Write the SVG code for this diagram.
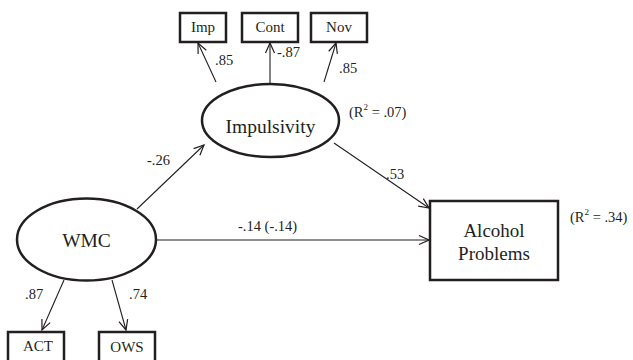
<svg xmlns="http://www.w3.org/2000/svg" width="633" height="360" viewBox="0 0 633 360" font-family="'Liberation Serif', 'Times New Roman', serif">
<style>
text{font-family:'Liberation Serif','Times New Roman',serif;fill:#231f20}
.box{fill:#fff;stroke:#231f20;stroke-width:2.5}
.lat{fill:#fff;stroke:#231f20;stroke-width:2.5}
.c{stroke:#231f20;stroke-width:1.1;fill:none;marker-end:url(#ah)}
.lbl{font-size:14.5px}
.nt{font-size:15px;text-anchor:middle}
.big{font-size:19.5px;text-anchor:middle}
</style>
<defs>
<marker id="ah" markerUnits="userSpaceOnUse" markerWidth="12" markerHeight="12" viewBox="0 0 12 12" refX="11" refY="6" orient="auto">
<path d="M1,1.5 L11,6 L1,10.5" fill="none" stroke="#231f20" stroke-width="1.2"/>
</marker>
</defs>
<g id="connectors">
<line class="c" x1="216" y1="82" x2="198" y2="43"/>
<line class="c" x1="270" y1="84" x2="270" y2="43"/>
<line class="c" x1="324" y1="82" x2="336" y2="43"/>
<line class="c" x1="137" y1="209" x2="204" y2="145"/>
<line class="c" x1="334" y1="143" x2="429" y2="208"/>
<line class="c" x1="156" y1="240" x2="429" y2="240"/>
<line class="c" x1="64" y1="280" x2="42" y2="330"/>
<line class="c" x1="112" y1="280" x2="126" y2="330"/>
</g>
<g id="labels">
<text class="lbl" x="215" y="65">.85</text>
<text class="lbl" x="277" y="57">-.87</text>
<text class="lbl" x="339" y="73">.85</text>
<text class="lbl" x="147" y="165">-.26</text>
<text class="lbl" x="386" y="179">.53</text>
<text class="lbl" x="238" y="231">-.14 (-.14)</text>
<text class="lbl" x="25" y="299">.87</text>
<text class="lbl" x="129" y="299">.74</text>
<text class="lbl" x="349" y="117">(R<tspan dy="-7" font-size="9">2</tspan><tspan dy="7"> = .07)</tspan></text>
<text class="lbl" x="570" y="222">(R<tspan dy="-7" font-size="9">2</tspan><tspan dy="7"> = .34)</tspan></text>
</g>
<g id="imp">
<rect class="box" x="180" y="13" width="46" height="29"/>
<text class="nt" x="203" y="32">Imp</text>
</g>
<g id="cont">
<rect class="box" x="242" y="13" width="56" height="29"/>
<text class="nt" x="270" y="32">Cont</text>
</g>
<g id="nov">
<rect class="box" x="311" y="13" width="56" height="29"/>
<text class="nt" x="339" y="32">Nov</text>
</g>
<g id="impulsivity">
<ellipse class="lat" cx="270.5" cy="120.5" rx="68.5" ry="36.5"/>
<text class="big" x="270.5" y="133">Impulsivity</text>
</g>
<g id="wmc">
<ellipse class="lat" cx="86.5" cy="239.5" rx="69.5" ry="41"/>
<text class="big" x="86.5" y="247">WMC</text>
</g>
<g id="alcohol">
<rect class="box" x="430" y="201" width="128" height="79"/>
<text class="big" x="494" y="237" style="font-size:19px">Alcohol</text>
<text class="big" x="494" y="260" style="font-size:19px">Problems</text>
</g>
<g id="act">
<rect class="box" x="8" y="332" width="56" height="32"/>
<text class="nt" x="38" y="351">ACT</text>
</g>
<g id="ows">
<rect class="box" x="99" y="332" width="56" height="32"/>
<text class="nt" x="127" y="352">OWS</text>
</g>
</svg>
